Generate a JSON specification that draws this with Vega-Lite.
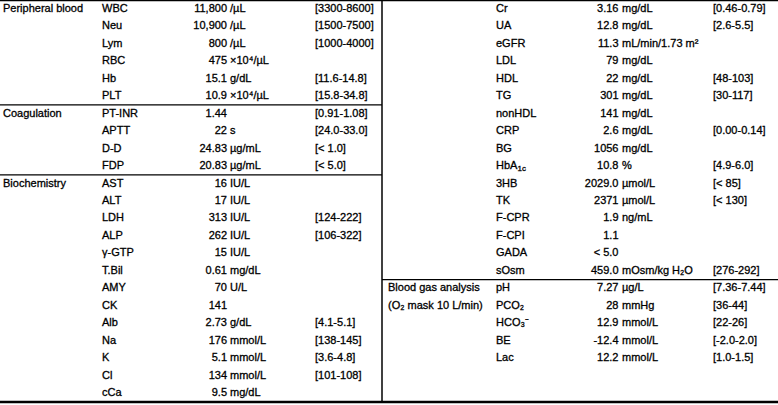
{
  "$schema": "https://vega.github.io/schema/vega-lite/v6.json",
  "width": 778,
  "height": 405,
  "padding": 0,
  "autosize": {"type": "none"},
  "background": "white",
  "config": {
    "view": {"stroke": null},
    "text": {"font": "Liberation Sans", "fontSize": 11, "color": "#000000", "baseline": "middle", "stroke": "#000000", "strokeWidth": 0.3}
  },
  "datasets": {
    "left": [
      {"row": 0, "group": "Peripheral blood", "name": "WBC", "value": "11,800", "unit": "/µL", "ref": "[3300-8600]"},
      {"row": 1, "group": "", "name": "Neu", "value": "10,900", "unit": "/µL", "ref": "[1500-7500]"},
      {"row": 2, "group": "", "name": "Lym", "value": "800", "unit": "/µL", "ref": "[1000-4000]"},
      {"row": 3, "group": "", "name": "RBC", "value": "475", "unit": "×10⁴/µL", "ref": ""},
      {"row": 4, "group": "", "name": "Hb", "value": "15.1", "unit": "g/dL", "ref": "[11.6-14.8]"},
      {"row": 5, "group": "", "name": "PLT", "value": "10.9", "unit": "×10⁴/µL", "ref": "[15.8-34.8]"},
      {"row": 6, "group": "Coagulation", "name": "PT-INR", "value": "1.44", "unit": "", "ref": "[0.91-1.08]"},
      {"row": 7, "group": "", "name": "APTT", "value": "22", "unit": "s", "ref": "[24.0-33.0]"},
      {"row": 8, "group": "", "name": "D-D", "value": "24.83", "unit": "µg/mL", "ref": "[< 1.0]"},
      {"row": 9, "group": "", "name": "FDP", "value": "20.83", "unit": "µg/mL", "ref": "[< 5.0]"},
      {"row": 10, "group": "Biochemistry", "name": "AST", "value": "16", "unit": "IU/L", "ref": ""},
      {"row": 11, "group": "", "name": "ALT", "value": "17", "unit": "IU/L", "ref": ""},
      {"row": 12, "group": "", "name": "LDH", "value": "313", "unit": "IU/L", "ref": "[124-222]"},
      {"row": 13, "group": "", "name": "ALP", "value": "262", "unit": "IU/L", "ref": "[106-322]"},
      {"row": 14, "group": "", "name": "γ-GTP", "value": "15", "unit": "IU/L", "ref": ""},
      {"row": 15, "group": "", "name": "T.Bil", "value": "0.61", "unit": "mg/dL", "ref": ""},
      {"row": 16, "group": "", "name": "AMY", "value": "70", "unit": "U/L", "ref": ""},
      {"row": 17, "group": "", "name": "CK", "value": "141\u2007", "unit": "", "ref": ""},
      {"row": 18, "group": "", "name": "Alb", "value": "2.73", "unit": "g/dL", "ref": "[4.1-5.1]"},
      {"row": 19, "group": "", "name": "Na", "value": "176", "unit": "mmol/L", "ref": "[138-145]"},
      {"row": 20, "group": "", "name": "K", "value": "5.1", "unit": "mmol/L", "ref": "[3.6-4.8]"},
      {"row": 21, "group": "", "name": "Cl", "value": "134", "unit": "mmol/L", "ref": "[101-108]"},
      {"row": 22, "group": "", "name": "cCa", "value": "9.5", "unit": "mg/dL", "ref": ""}
    ],
    "right": [
      {"row": 0, "group": "", "name": "Cr", "value": "3.16", "unit": "mg/dL", "ref": "[0.46-0.79]", "sub": ""},
      {"row": 1, "group": "", "name": "UA", "value": "12.8", "unit": "mg/dL", "ref": "[2.6-5.5]", "sub": ""},
      {"row": 2, "group": "", "name": "eGFR", "value": "11.3", "unit": "mL/min/1.73 m²", "ref": "", "sub": ""},
      {"row": 3, "group": "", "name": "LDL", "value": "79", "unit": "mg/dL", "ref": "", "sub": ""},
      {"row": 4, "group": "", "name": "HDL", "value": "22", "unit": "mg/dL", "ref": "[48-103]", "sub": ""},
      {"row": 5, "group": "", "name": "TG", "value": "301", "unit": "mg/dL", "ref": "[30-117]", "sub": ""},
      {"row": 6, "group": "", "name": "nonHDL", "value": "141", "unit": "mg/dL", "ref": "", "sub": ""},
      {"row": 7, "group": "", "name": "CRP", "value": "2.6", "unit": "mg/dL", "ref": "[0.00-0.14]", "sub": ""},
      {"row": 8, "group": "", "name": "BG", "value": "1056", "unit": "mg/dL", "ref": "", "sub": ""},
      {"row": 9, "group": "", "name": "HbA", "value": "10.8", "unit": "%", "ref": "[4.9-6.0]", "sub": "1c"},
      {"row": 10, "group": "", "name": "3HB", "value": "2029.0", "unit": "µmol/L", "ref": "[< 85]", "sub": ""},
      {"row": 11, "group": "", "name": "TK", "value": "2371", "unit": "µmol/L", "ref": "[< 130]", "sub": ""},
      {"row": 12, "group": "", "name": "F-CPR", "value": "1.9", "unit": "ng/mL", "ref": "", "sub": ""},
      {"row": 13, "group": "", "name": "F-CPI", "value": "1.1", "unit": "", "ref": "", "sub": ""},
      {"row": 14, "group": "", "name": "GADA", "value": "< 5.0", "unit": "", "ref": "", "sub": ""},
      {"row": 15, "group": "", "name": "sOsm", "value": "459.0", "unit": "mOsm/kg H₂O", "ref": "[276-292]", "sub": ""},
      {"row": 16, "group": "Blood gas analysis", "name": "pH", "value": "7.27", "unit": "µg/L", "ref": "[7.36-7.44]", "sub": ""},
      {"row": 17, "group": "(O₂ mask 10 L/min)", "name": "PCO₂", "value": "28", "unit": "mmHg", "ref": "[36-44]", "sub": ""},
      {"row": 18, "group": "", "name": "HCO₃⁻", "value": "12.9", "unit": "mmol/L", "ref": "[22-26]", "sub": ""},
      {"row": 19, "group": "", "name": "BE", "value": "-12.4", "unit": "mmol/L", "ref": "[-2.0-2.0]", "sub": ""},
      {"row": 20, "group": "", "name": "Lac", "value": "12.2", "unit": "mmol/L", "ref": "[1.0-1.5]", "sub": ""}
    ],
    "hlines": [
      {"row": -0.5, "part": "full"},
      {"row": 22.5, "part": "full"},
      {"row": 5.5, "part": "left"},
      {"row": 9.5, "part": "left"},
      {"row": 15.5, "part": "right"}
    ]
  },
  "encoding": {
    "y": {"field": "row", "type": "quantitative", "axis": null,
          "scale": {"domain": [-0.5, 22.5], "range": [0, 402], "nice": false, "zero": false}}
  },
  "layer": [
    {"data": {"name": "hlines"}, "transform": [{"filter": "datum.part === 'full'"}],
     "mark": {"type": "rule", "color": "#000000", "strokeWidth": 2.5},
     "encoding": {"x": {"value": 0}, "x2": {"value": 778}}},
    {"data": {"name": "hlines"}, "transform": [{"filter": "datum.part === 'left'"}],
     "mark": {"type": "rule", "color": "#000000", "strokeWidth": 1.2},
     "encoding": {"x": {"value": 0}, "x2": {"value": 382}}},
    {"data": {"name": "hlines"}, "transform": [{"filter": "datum.part === 'right'"}],
     "mark": {"type": "rule", "color": "#000000", "strokeWidth": 1.2},
     "encoding": {"x": {"value": 382}, "x2": {"value": 778}}},
    {"data": {"values": [{"row": -0.5, "row2": 22.5}]},
     "mark": {"type": "rule", "color": "#000000", "strokeWidth": 1.5},
     "encoding": {"x": {"value": 382}, "y2": {"field": "row2"}}},

    {"data": {"name": "left"}, "mark": {"type": "text", "align": "left"},
     "encoding": {"x": {"value": 3}, "text": {"field": "group"}}},
    {"data": {"name": "left"}, "mark": {"type": "text", "align": "left"},
     "encoding": {"x": {"value": 102}, "text": {"field": "name"}}},
    {"data": {"name": "left"}, "mark": {"type": "text", "align": "right"},
     "encoding": {"x": {"value": 227}, "text": {"field": "value"}}},
    {"data": {"name": "left"}, "mark": {"type": "text", "align": "left"},
     "encoding": {"x": {"value": 230}, "text": {"field": "unit"}}},
    {"data": {"name": "left"}, "mark": {"type": "text", "align": "left"},
     "encoding": {"x": {"value": 315}, "text": {"field": "ref"}}},

    {"data": {"name": "right"}, "mark": {"type": "text", "align": "left"},
     "encoding": {"x": {"value": 388}, "text": {"field": "group"}}},
    {"data": {"name": "right"}, "mark": {"type": "text", "align": "left"},
     "encoding": {"x": {"value": 496}, "text": {"field": "name"}}},
    {"data": {"name": "right"}, "transform": [{"filter": "datum.sub !== ''"}],
     "mark": {"type": "text", "align": "left", "fontSize": 8, "dx": 21.5, "dy": 3},
     "encoding": {"x": {"value": 496}, "text": {"field": "sub"}}},
    {"data": {"name": "right"}, "mark": {"type": "text", "align": "right"},
     "encoding": {"x": {"value": 618.5}, "text": {"field": "value"}}},
    {"data": {"name": "right"}, "mark": {"type": "text", "align": "left"},
     "encoding": {"x": {"value": 622}, "text": {"field": "unit"}}},
    {"data": {"name": "right"}, "mark": {"type": "text", "align": "left"},
     "encoding": {"x": {"value": 713}, "text": {"field": "ref"}}}
  ]
}
